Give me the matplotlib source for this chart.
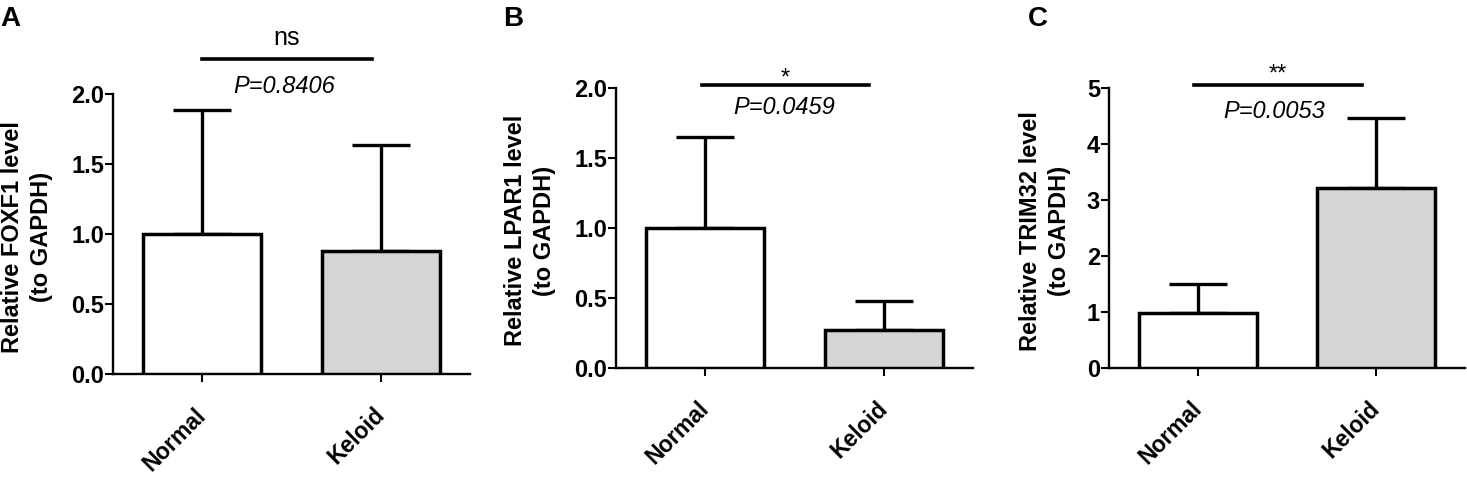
import matplotlib
matplotlib.use("Agg")
import matplotlib.pyplot as plt

plt.rcParams['font.family'] = ['Liberation Sans', 'DejaVu Sans']

categories = ["Normal", "Keloid"]

foxf1_mean = [1.00, 0.88]
foxf1_sd = [0.89, 0.76]
lpar1_mean = [1.00, 0.27]
lpar1_sd = [0.65, 0.21]
trim32_mean = [0.98, 3.21]
trim32_sd = [0.51, 1.25]

panel_letters = ["A", "B", "C"]
ylabels = ["Relative FOXF1 level\n(to GAPDH)",
           "Relative LPAR1 level\n(to GAPDH)",
           "Relative TRIM32 level\n(to GAPDH)"]
p_texts = ["P=0.8406", "P=0.0459", "P=0.0053"]
sig_marks = ["ns", "*", "**"]
yticks_list = [[0.0, 0.5, 1.0, 1.5, 2.0], [0.0, 0.5, 1.0, 1.5, 2.0], [0, 1, 2, 3, 4, 5]]
ytick_labels = [["0.0", "0.5", "1.0", "1.5", "2.0"],
                ["0.0", "0.5", "1.0", "1.5", "2.0"],
                ["0", "1", "2", "3", "4", "5"]]
ylims = [(0, 2.0), (0, 2.0), (0, 5)]

means = [foxf1_mean, lpar1_mean, trim32_mean]
sds = [foxf1_sd, lpar1_sd, trim32_sd]

W, H = 1467, 480
fig = plt.figure(figsize=(W / 100, H / 100), dpi=100)

# axes rectangles in pixels: left, right, top, bottom
rects_px = [(113, 470, 94.3, 374), (616, 973, 88.3, 367.7), (1109, 1465, 88.3, 367.7)]
ylabel_x = [-0.241, -0.241, -0.180]
letter_pos_px = [(0, 26), (503, 26), (1028, 26)]

# annotations: (sig line y, line x0, line x1, sig text y, p text x, p text y) in data coords
annots = [
    (2.255, 0.0, 0.95, 2.40, 0.46, 2.057),
    (2.024, -0.02, 0.92, 2.07, 0.44, 1.86),
    (5.06, -0.02, 0.92, 5.24, 0.43, 4.58),
]
sig_sizes = [18, 17, 17]

bar_colors = ["white", "#d4d5d5"]
x = [0, 1]

for i in range(3):
    l, r, t, b = rects_px[i]
    ax = fig.add_axes([l / W, 1 - b / H, (r - l) / W, (b - t) / H])
    ax.bar(x, means[i], width=0.66, color=bar_colors, edgecolor="black",
           linewidth=2.5, zorder=3)
    ax.errorbar(x, means[i], yerr=[[0, 0], sds[i]], fmt="none", ecolor="black",
                elinewidth=2.4, capsize=21, capthick=2.4, zorder=2)
    ax.set_xlim(-0.5, 1.5)
    ax.set_ylim(*ylims[i])
    ax.set_yticks(yticks_list[i])
    ax.set_yticklabels(ytick_labels[i], fontsize=17, fontweight="bold")
    ax.set_xticks(x)
    ax.set_xticklabels(categories, fontsize=16.5, fontweight="bold",
                       rotation=45, ha="right", va="center", rotation_mode="anchor")
    for s in ["top", "right"]:
        ax.spines[s].set_visible(False)
    for s in ["left", "bottom"]:
        ax.spines[s].set_linewidth(1.7)
    ax.tick_params(axis="y", length=6, width=1.5, pad=0.5)
    ax.tick_params(axis="x", length=6, width=1.5, pad=21)
    ax.text(ylabel_x[i], 0.49, ylabels[i], transform=ax.transAxes, rotation=90,
            ha="center", va="center", fontsize=17, fontweight="bold",
            multialignment="center", linespacing=1.3)
    ly, lx0, lx1, sy, px, py = annots[i]
    ax.plot([lx0, lx1], [ly, ly], color="black", linewidth=2.6, clip_on=False)
    ax.text((lx0 + lx1) / 2, sy, sig_marks[i], ha="center", va="center",
            fontsize=sig_sizes[i], clip_on=False)
    ax.text(px, py, p_texts[i], ha="center", va="center", fontsize=17,
            style="italic", clip_on=False)
    lx, ly_ = letter_pos_px[i]
    fig.text(lx / W, 1 - ly_ / H, panel_letters[i], fontsize=20, fontweight="bold",
             ha="left", va="baseline")

fig.savefig("out.png", dpi=100)
